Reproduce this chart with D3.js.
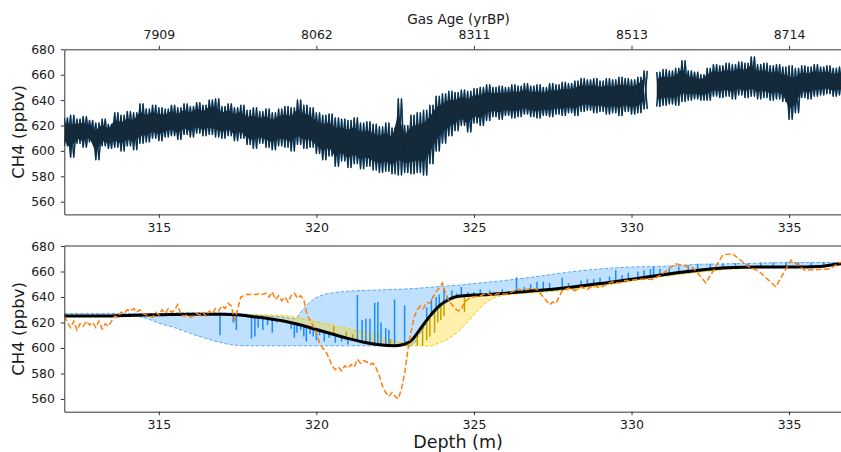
<!DOCTYPE html>
<html><head><meta charset="utf-8">
<script src="https://cdn.jsdelivr.net/npm/d3@7"></script>
<style>body{margin:0;background:#fff} svg{display:block} text{font-family:"DejaVu Sans",sans-serif}</style>
</head><body><svg id="c" width="841" height="452"></svg>
<script>
// ---------- DATA ----------
const depthTicks = [315, 320, 325, 330, 335];
const ageLabels = ["7909", "8062", "8311", "8513", "8714"];
const ppbTicks = [560, 580, 600, 620, 640, 660, 680];

// top panel: high-resolution record, low/high envelope per 0.2 m bin (from 312.0 m)
const topStart = 312.0, topStep = 0.2;
const topHi = [626,628,625,627,624,622,625,621,630,628,
  631,630,637,633,636,634,633,636,634,637,
  635,638,636,640,641,635,637,634,636,632,
  634,631,633,630,633,635,634,640,636,634,
  630,628,629,626,625,624,626,622,623,621,
  619,622,618,641,620,628,630,632,636,643,
  645,647,646,648,647,649,650,652,650,651,
  650,652,651,653,651,652,650,653,652,654,
  653,655,657,656,657,655,657,656,658,657,
  656,658,663,null,662,664,663,665,671,663,
  662,660,665,668,667,669,668,670,669,674,
  668,669,667,668,666,667,665,667,666,668,
  666,667,665,666,667,666];
const topLo = [604,595,606,603,607,593,604,602,603,600,
  604,601,606,607,610,608,611,612,609,613,
  611,614,612,613,611,610,612,608,610,605,
  602,606,603,601,604,603,600,605,602,603,
  598,593,596,588,592,587,590,586,588,585,
  583,584,582,581,583,582,583,581,590,600,
  606,612,616,620,615,622,620,624,627,625,
  628,626,627,629,627,626,628,627,629,628,
  630,628,631,632,630,631,629,630,628,631,
  629,630,633,null,635,636,637,636,639,640,
  641,640,640,643,642,643,641,644,642,643,
  641,642,640,641,639,625,630,642,641,643,
  644,645,643,644,643,644];

// bottom panel: fitted model (black)
const modelDepth = [312,313,314,315,316,317,317.5,318,318.5,319,319.5,320,320.5,321,321.5,322,322.5,322.8,323,323.3,323.6,323.9,324.2,324.5,325,325.5,326,327,328,329,330,331,332,333,334,335,336,336.6,337];
const modelValue = [625,625,625.5,626,626.5,626.5,626,624.5,623,621,618,614.5,611,607.5,604.5,602.5,601.8,603,605.5,615,625,633,638,640.5,641.5,642,643,645,647.5,650.5,654,657.5,660.5,663,663.5,663.5,664,666,666.5];

// blue envelope
const blueDepth = [312,314,314.5,315,315.5,316,316.5,317,317.5,318,318.5,319,319.3,319.6,319.9,320.2,320.6,321,322,323,323.3,323.6,323.9,324.2,324.5,325,326,327,328,329,330,331,332,333,334,335,336,337];
const blueUpper = [627,627,627,627,627.5,627.5,627.5,627.5,627,626,625,624,623,631,638,641.5,643.5,644.5,645.5,646.5,647,647.5,648.2,648.7,649.2,650.5,653,656,659.5,662,663.5,664,665.5,666,666.5,667,667,667];
const blueLower = [625,625,624,619.5,616,611.5,607.5,604,602,601.7,601.7,601.7,601.7,601.7,601.7,601.7,601.7,601.7,601.7,601.7,612,623,631,636.5,639.5,640.5,642,644,646.5,649.5,653,656.5,659.5,662,663,663,663.5,666];

// yellow envelope
const yellowDepth = [317,318,318.9,320,321,322,322.66,323,323.3,323.6,323.9,324.2,324.5,325,325.3,325.6,326,327,328,329,330,331,332,333,334,335,336,337];
const yellowUpper = [626.5,626,625.5,620.5,615.3,609.5,604.5,603.5,615,625,633,638,640.5,641.5,641.8,642.1,643,645,647.5,650.5,654,657.5,660.5,663,663.5,663.5,664,666.5];
const yellowLower = [626.5,624.5,621.4,614.5,607.5,602.5,601.7,601.7,601.7,601.7,604,607.5,613,626,634,639,641.5,643.5,645.5,648.5,652.5,656,659,661.5,663,663.5,664,666];

// residual spikes [depth, value]
const blueSpikes = [[316.94,610],[317.36,620],[317.46,614],[317.94,607.5],[318.05,609],[318.15,616],[318.3,614],[318.45,618],[318.6,612],[318.75,620],
  [319.2,615],[319.3,608],[319.38,612],[319.5,614],[319.6,609],[319.68,605],[319.8,611],[319.9,609],[320.0,606],[320.1,610],[320.25,605],[320.4,608],[320.6,604],[320.8,605],[321.0,603],
  [321.3,641.6],[321.45,622],[321.57,623],[321.7,623],[321.85,635.5],[321.95,636],[322.05,620],[322.2,615.7],[322.3,614],[322.48,638],[322.8,633.6],
  [323.5,632],[323.65,638],[323.8,640],[323.9,642],[324.05,647],[324.15,641],[324.3,645],[324.45,643],[324.6,648],[324.8,644],[325.0,644],[325.2,646],[325.5,645],[325.9,646],
  [326.35,655.5],[326.6,648],[326.8,650],[327.0,652],[327.2,652],[327.4,651],[327.8,655],[328.0,651],[328.4,653],[328.6,654],[328.8,654],[329.0,655],[329.3,656],[329.5,661],[329.7,657],[329.9,659],
  [330.2,660],[330.4,661],[330.6,662],[330.7,663.8],[330.9,662],[331.2,663],[331.5,664],[331.8,665],[332.1,666],[332.5,666],[332.9,666],[333.3,666.5],[333.7,666.5],[334.1,667],[334.5,667],[334.9,667],[335.3,667],[335.7,667],[336.1,667]];
const goldSpikes = [[320.55,617],[320.95,613],[321.15,611],[322.35,607],[323.2,602],[323.37,602],[323.5,606],[323.6,609],[323.75,612],[323.85,620],[323.95,622],[324.05,625],[324.7,628.5]];

// orange comparison record
const orangeDepth = [312.0,312.1,312.2,312.3,312.4,312.5,312.6,312.7,312.8,312.9,313.0,313.1,313.2,313.3,313.4,313.5,313.6,313.7,313.8,313.9,
  314.0,314.1,314.2,314.3,314.4,314.5,314.6,314.7,314.8,314.9,315.0,315.1,315.2,315.3,315.4,315.5,315.6,315.7,315.8,315.9,
  316.0,316.1,316.2,316.3,316.4,316.5,316.6,316.7,316.8,316.9,317.0,317.1,317.2,317.3,317.4,317.5,317.6,317.7,317.8,317.9,
  318.0,318.1,318.2,318.3,318.4,318.5,318.6,318.7,318.8,318.9,319.0,319.1,319.2,319.3,319.4,319.5,319.6,319.7,319.8,319.9,
  320.0,320.1,320.2,320.3,320.4,320.5,320.6,320.7,320.8,320.9,321.0,321.1,321.2,321.3,321.4,321.5,321.6,321.7,321.8,321.9,
  322.0,322.1,322.2,322.3,322.4,322.5,322.6,322.7,322.8,322.9,323.0,323.1,323.2,323.3,323.4,323.5,323.6,323.7,323.8,323.9,
  324.0,324.1,324.2,324.3,324.4,324.5,324.6,324.7,324.8,324.9,325.0,325.2,325.4,325.6,325.8,326.0,326.2,326.4,326.6,326.8,
  327.0,327.1,327.2,327.3,327.4,327.5,327.6,327.7,327.8,327.9,328.0,328.2,328.4,328.6,328.8,329.0,329.2,329.4,329.6,329.8,
  330.0,330.25,330.7,330.97,331.4,331.95,332.36,332.9,333.2,333.7,334.05,334.58,335.06,335.5,336.3,336.6,337.0];
const orangeValue = [625,620,616,621,614,619,617,621,618,620,616,621,615,619,617,621,625,624,628,627,
  630,629,631,628,630,627,626,625,624,628,626,630,627,631,628,630,634,626,625,626,
  624,625,627,626,628,625,629,627,631,629,633,631,635,633,622,630,640,641,642,642,
  642,642,643,642,643,640,644,638,641,637,640,636,641,643,639,641,638,626,622,617,
  612,604,600,597,592,586,583,585,582,586,584,587,585,591,588,590,589,587,588,584,
  578,570,565,562,565,562,560,568,580,598,612,624,630,633,631,636,635,640,644,647,
  651,643,637,634,631,629,630,636,638,640,640,641,643,641,643,642,644,646,645,647,
  646,643,640,637,634,636,635,640,645,646,647,645,648,646,649,647,650,652,651,653,
  653,654,654,658,666,663,651,673,674,664,660,648,669,661,662,667,668];

// ---------- DRAW ----------
const svg = d3.select("#c");
const L = 64.3, R = 852.1;
const x = d3.scaleLinear().domain([312, 337]).range([L, R]);
const P1 = {top: 49.3, bottom: 214.4}, P2 = {top: 246, bottom: 411.7};
const y1 = d3.scaleLinear().domain([550, 680]).range([P1.bottom, P1.top]);
const y2 = d3.scaleLinear().domain([550, 680]).range([P2.bottom, P2.top]);
const model = d3.scaleLinear().domain(modelDepth).range(modelValue);

const defs = svg.append("defs");
[["clip1", P1], ["clip2", P2]].forEach(([id, p]) => {
  defs.append("clipPath").attr("id", id).append("rect")
    .attr("x", L).attr("y", p.top).attr("width", R - L).attr("height", p.bottom - p.top);
});

// ---- top panel ----
const g1 = svg.append("g").attr("clip-path", "url(#clip1)");
const topDepth = topHi.map((_, i) => topStart + i * topStep);
// two interleaved traces through each bin's low and high reading
const zigA = [], zigB = [];
topDepth.forEach((d, i) => {
  if (topHi[i] == null) { zigA.push(null); zigB.push(null); return; }
  zigA.push([d, topLo[i]]); zigA.push([d + topStep / 2, topHi[i]]);
  zigB.push([d, topHi[i]]); zigB.push([d + topStep / 2, topLo[i]]);
});
const zigLine = d3.line().defined(p => p !== null).x(p => x(p[0])).y(p => y1(p[1]));
[zigA, zigB].forEach(z => g1.append("path").attr("d", zigLine(z)).attr("fill", "none")
  .attr("stroke", "#1f77b4").attr("stroke-width", 1.5).attr("stroke-linejoin", "round"));
const core = d3.area().defined((d, i) => topHi[i] != null)
  .x(d => x(d)).y0((d, i) => y1(topLo[i] + 0.2 * (topHi[i] - topLo[i])))
  .y1((d, i) => y1(topHi[i] - 0.2 * (topHi[i] - topLo[i])));
g1.append("path").attr("d", core(topDepth)).attr("fill", "#152a3b");
[zigA, zigB].forEach(z => g1.append("path").attr("d", zigLine(z)).attr("fill", "none")
  .attr("stroke", "#152a3b").attr("stroke-width", 1.1).attr("stroke-linejoin", "round"));

// ---- bottom panel ----
const g2 = svg.append("g").attr("clip-path", "url(#clip2)");
const blueArea = d3.area().curve(d3.curveMonotoneX).x((d) => x(d)).y0((d, i) => y2(blueLower[i])).y1((d, i) => y2(blueUpper[i]));
g2.append("path").attr("d", blueArea(blueDepth)).attr("fill", "rgba(30,144,255,0.28)");
const yArea = d3.area().curve(d3.curveMonotoneX).x((d) => x(d)).y0((d, i) => y2(yellowLower[i])).y1((d, i) => y2(yellowUpper[i]));
g2.append("path").attr("d", yArea(yellowDepth)).attr("fill", "rgba(255,210,0,0.33)");

function dashed(depths, vals, color, w, dash) {
  const ln = d3.line().curve(d3.curveMonotoneX).x(d => x(d)).y((d, i) => y2(vals[i]));
  g2.append("path").attr("d", ln(depths)).attr("fill", "none").attr("stroke", color)
    .attr("stroke-width", w).attr("stroke-dasharray", dash);
}
dashed(blueDepth, blueUpper, "#5aa7f2", 1, "3.5,1.8");
dashed(blueDepth, blueLower, "#5aa7f2", 1, "3.5,1.8");
dashed(yellowDepth, yellowUpper, "#f2c80f", 1, "3.5,1.8");
dashed(yellowDepth, yellowLower, "#f2c80f", 1, "3.5,1.8");

g2.selectAll(".bs").data(blueSpikes).join("line")
  .attr("x1", d => x(d[0])).attr("x2", d => x(d[0]))
  .attr("y1", d => y2(model(d[0]))).attr("y2", d => y2(d[1]))
  .attr("stroke", "#1e8cf5").attr("stroke-width", 1.5);
g2.selectAll(".gs").data(goldSpikes).join("line")
  .attr("x1", d => x(d[0])).attr("x2", d => x(d[0]))
  .attr("y1", d => y2(model(d[0]))).attr("y2", d => y2(d[1]))
  .attr("stroke", "#bfa200").attr("stroke-width", 1.5);

const mLine = d3.line().curve(d3.curveMonotoneX).x(d => x(d)).y((d, i) => y2(modelValue[i]));
g2.append("path").attr("d", mLine(modelDepth)).attr("fill", "none").attr("stroke", "#000").attr("stroke-width", 3);

const oLine = d3.line().x(d => x(d)).y((d, i) => y2(orangeValue[i]));
g2.append("path").attr("d", oLine(orangeDepth)).attr("fill", "none").attr("stroke", "#ff7f0e")
  .attr("stroke-width", 1.5).attr("stroke-dasharray", "5.5,2.6");

// ---- axes ----
function styleAxis(sel) {
  sel.selectAll("text").attr("font-size", "12.5px").attr("fill", "#1a1a1a").attr("font-family", "DejaVu Sans, sans-serif");
  sel.selectAll("line").attr("stroke", "#333");
  sel.select(".domain").attr("stroke", "#333");
}
[[P1, y1], [P2, y2]].forEach(([p, ys]) => {
  svg.append("g").attr("transform", `translate(0,${p.bottom})`)
    .call(d3.axisBottom(x).tickValues(depthTicks).tickFormat(d3.format("d")).tickSize(3.5).tickPadding(5.4).tickSizeOuter(0))
    .call(styleAxis);
  svg.append("g").attr("transform", `translate(${L},0)`)
    .call(d3.axisLeft(ys).tickValues(ppbTicks).tickFormat(d3.format("d")).tickSize(3.5).tickPadding(5.8).tickSizeOuter(0))
    .call(styleAxis);
});
svg.append("g").attr("transform", `translate(0,${P1.top})`)
  .call(d3.axisTop(x).tickValues(depthTicks).tickFormat((d, i) => ageLabels[i]).tickSize(3.5).tickPadding(7.3).tickSizeOuter(0))
  .call(styleAxis);
svg.append("line").attr("x1", L).attr("x2", R).attr("y1", P2.top).attr("y2", P2.top).attr("stroke", "#333");

// ---- labels ----
svg.append("text").attr("x", 458.5).attr("y", 23.5).attr("text-anchor", "middle")
  .attr("font-size", "13.6px").attr("fill", "#1a1a1a").text("Gas Age (yrBP)");
svg.append("text").attr("x", 458).attr("y", 448).attr("text-anchor", "middle")
  .attr("font-size", "17.5px").attr("fill", "#1a1a1a").text("Depth (m)");
[P1, P2].forEach(p => {
  svg.append("text").attr("transform", `translate(24,${(p.top + p.bottom) / 2}) rotate(-90)`)
    .attr("text-anchor", "middle").attr("font-size", "16.5px").attr("fill", "#1a1a1a").text("CH4 (ppbv)");
});
</script></body></html>
